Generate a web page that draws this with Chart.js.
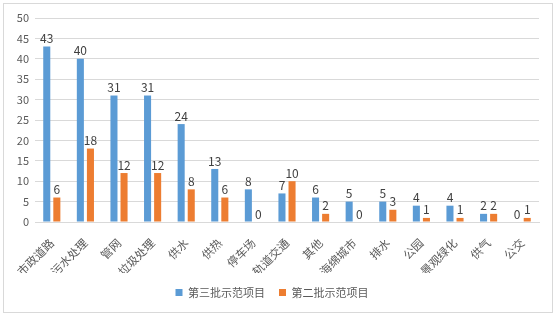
<!DOCTYPE html>
<html>
<head>
<meta charset="utf-8">
<script src="https://cdn.jsdelivr.net/npm/chart.js@4/dist/chart.umd.min.js"></script>
<style>
    html, body { margin: 0; padding: 0; background: #fff; }
    #wrap { position: relative; width: 557px; height: 317px; }
    #frame { position: absolute; left: 3px; top: 3px; width: 548px; height: 308px; border: 1px solid #d9d9d9; }
    canvas { position: absolute; left: 0; top: 0; }
</style>
</head>
<body>
<div id="wrap">
    <div id="frame"></div>
    <canvas id="chart" width="557" height="317"></canvas>
</div>
<script>
// Demonstration projects by category — two batches side by side.
const CATEGORIES = ['市政道路', '污水处理', '管网', '垃圾处理', '供水', '供热', '停车场', '轨道交通',
    '其他', '海绵城市', '排水', '公园', '景观绿化', '供气', '公交'];
const BATCH_3 = [43, 40, 31, 31, 24, 13, 8, 7, 6, 5, 5, 4, 4, 2, 0];
const BATCH_2 = [6, 18, 12, 12, 8, 6, 0, 10, 2, 0, 3, 1, 1, 2, 1];
const SERIES_NAMES = ['第三批示范项目', '第二批示范项目'];
const Y_TICKS = [0, 5, 10, 15, 20, 25, 30, 35, 40, 45, 50];

const FONT = '"Noto Sans CJK SC", "Noto Sans", sans-serif';

// draws the value over each bar, zeros included
const valueLabels = {
    id: 'valueLabels',
    afterDatasetsDraw(chart) {
        const ctx = chart.ctx;
        ctx.save();
        ctx.font = '12px ' + FONT;
        ctx.fillStyle = '#404040';
        ctx.textAlign = 'center';
        ctx.textBaseline = 'bottom';
        chart.data.datasets.forEach((ds, i) => {
            chart.getDatasetMeta(i).data.forEach((bar, j) => {
                ctx.fillText(String(ds.data[j]), bar.x, bar.y - 2);
            });
        });
        ctx.restore();
    }
};

new Chart(document.getElementById('chart'), {
    type: 'bar',
    data: {
        labels: CATEGORIES,
        datasets: [
            { label: SERIES_NAMES[0], data: BATCH_3, backgroundColor: '#5B9BD5' },
            { label: SERIES_NAMES[1], data: BATCH_2, backgroundColor: '#ED7D31' }
        ]
    },
    options: {
        responsive: false,
        animation: false,
        categoryPercentage: 0.6,
        barPercentage: 0.7,
        layout: { padding: { left: 5, right: 18, top: 18, bottom: 9 } },
        plugins: {
            tooltip: { enabled: false },
            legend: {
                position: 'bottom',
                labels: {
                    boxWidth: 7, boxHeight: 7, padding: 14,
                    color: '#595959',
                    font: { family: FONT, size: 11 }
                }
            }
        },
        scales: {
            x: {
                grid: { display: false },
                border: { color: '#d9d9d9' },
                ticks: {
                    color: '#595959',
                    maxRotation: 45, minRotation: 45,
                    autoSkip: false,
                    padding: 6,
                    font: { family: FONT, size: 11.5 }
                },
                afterFit(scale) { scale.height = 51; }
            },
            y: {
                min: 0, max: 50,
                afterBuildTicks(scale) { scale.ticks = Y_TICKS.map(v => ({ value: v })); },
                grid: { color: '#d9d9d9', drawTicks: false },
                border: { display: false },
                ticks: {
                    color: '#595959', padding: 6,
                    font: { family: FONT, size: 11 }
                },
                afterFit(scale) { scale.width = 30; }
            }
        }
    },
    plugins: [valueLabels]
});
</script>
</body>
</html>
